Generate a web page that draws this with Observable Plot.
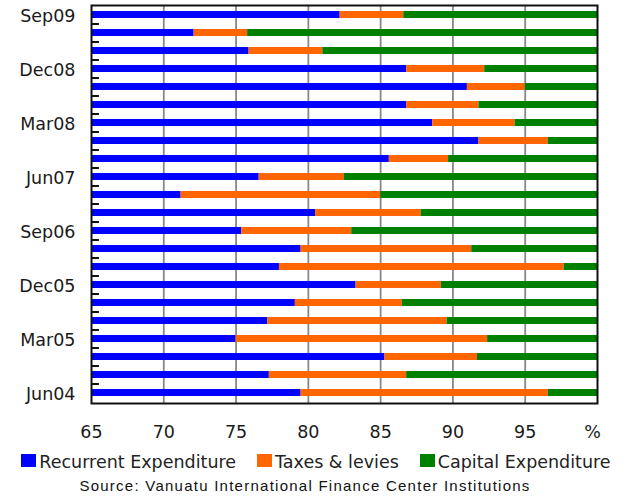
<!DOCTYPE html>
<html>
<head>
<meta charset="utf-8">
<script src="https://cdn.jsdelivr.net/npm/d3@7"></script>
<script src="https://cdn.jsdelivr.net/npm/@observablehq/plot@0.6"></script>
<style>
  html, body { margin: 0; padding: 0; background: #fff; }
  #chart { width: 626px; }
  .legend { display: flex; justify-content: center; align-items: center; gap: 21px;
    font-family: "DejaVu Sans", sans-serif; font-size: 17.5px; color: #222; height: 24px; margin-top: 5px; padding-left: 6px; }
  .legend .item { display: flex; align-items: center; gap: 3px; }
  .legend .sw { width: 15px; height: 13px; display: inline-block; position: relative; top: -2px; }
  .source { font-family: "Liberation Sans", Arial, sans-serif; font-size: 15px; letter-spacing: 1.25px; color: #111;
    text-align: center; margin-top: 3px; padding-right: 16px; }
</style>
</head>
<body>
<div id="chart"></div>
<script>
// Quarters, bottom (oldest) to top (newest)
const periods = ["Jun04","Sep04","Dec04","Mar05","Jun05","Sep05","Dec05","Mar06","Jun06","Sep06","Dec06",
                 "Mar07","Jun07","Sep07","Dec07","Mar08","Jun08","Sep08","Dec08","Mar09","Jun09","Sep09"];
const recurrent = [79.5,77.3,85.3,75.0,77.2,79.1,83.3,78.0,79.5,75.4,80.5,
                   71.2,76.6,85.6,91.8,88.6,86.8,91.0,86.8,75.9,72.1,82.2];
const taxes     = [17.1, 9.5, 6.4,17.4,12.4, 7.4, 5.9,19.7,11.8, 7.6, 7.3,
                   13.8, 5.9, 4.1, 4.8, 5.7, 5.0, 4.0, 5.4, 5.1, 3.7, 4.4];
const capital   = [ 3.4,13.2, 8.3, 7.6,10.4,13.5,10.8, 2.3, 8.7,17.0,12.2,
                   15.0,17.5,10.3, 3.4, 5.7, 8.2, 5.0, 7.8,19.0,24.2,13.4];
const seriesNames = ["Recurrent Expenditure","Taxes & levies","Capital Expenditure"];
const seriesColors = ["#0000ff","#ff6600","#008000"];
const xTicks = [65,70,75,80,85,90,95,100];
const gridTicks = [70,75,80,85,90,95];
const yLabels = ["Jun04","Mar05","Dec05","Sep06","Jun07","Mar08","Dec08","Sep09"];
const source = "Source: Vanuatu International Finance Center Institutions";

const seriesValues = [recurrent, taxes, capital];
const data = periods.flatMap((p, i) =>
  seriesNames.map((s, k) => ({period: p, series: s, value: seriesValues[k][i]})));

const chart = Plot.plot({
  width: 626,
  height: 445,
  marginLeft: 91,
  marginRight: 29,
  marginTop: 5,
  marginBottom: 42,
  style: {fontFamily: "DejaVu Sans, sans-serif", fontSize: "17.5px", color: "#1a1a1a", background: "#fff"},
  x: {domain: [65, 100]},
  y: {domain: periods.slice().reverse(), paddingInner: 0.59, paddingOuter: 0.295},
  color: {domain: seriesNames, range: seriesColors},
  marks: [
    Plot.gridX(gridTicks, {stroke: "#888", strokeOpacity: 1, strokeWidth: 1.8}),
    Plot.barX(data, {x: "value", y: "period", fill: "series", clip: true}),
    Plot.ruleY(periods.slice(1), {y: d => d, dy: 9, x1: 65, x2: 65.55, stroke: "#111", strokeWidth: 2}),
    Plot.frame({stroke: "#111", strokeWidth: 2}),
    Plot.axisX(xTicks.slice(0, -1), {tickSize: 0, tickPadding: 22, fontSize: 17.5, label: null}),
    Plot.axisX(xTicks.slice(-1), {tickSize: 0, tickPadding: 22, fontSize: 17.5, label: null, dx: -5,
      tickFormat: () => "%"}),
    Plot.axisY(yLabels, {tickSize: 0, tickPadding: 16, fontSize: 17.5, label: null, dy: 1.5})
  ]
});
document.getElementById("chart").appendChild(chart);

const legend = document.createElement("div");
legend.className = "legend";
seriesNames.forEach((s, k) => {
  const item = document.createElement("span");
  item.className = "item";
  const sw = document.createElement("span");
  sw.className = "sw";
  sw.style.background = seriesColors[k];
  const t = document.createElement("span");
  t.textContent = s;
  item.appendChild(sw);
  item.appendChild(t);
  legend.appendChild(item);
});
document.getElementById("chart").appendChild(legend);

const src = document.createElement("div");
src.className = "source";
src.textContent = source;
document.getElementById("chart").appendChild(src);
</script>
</body>
</html>
